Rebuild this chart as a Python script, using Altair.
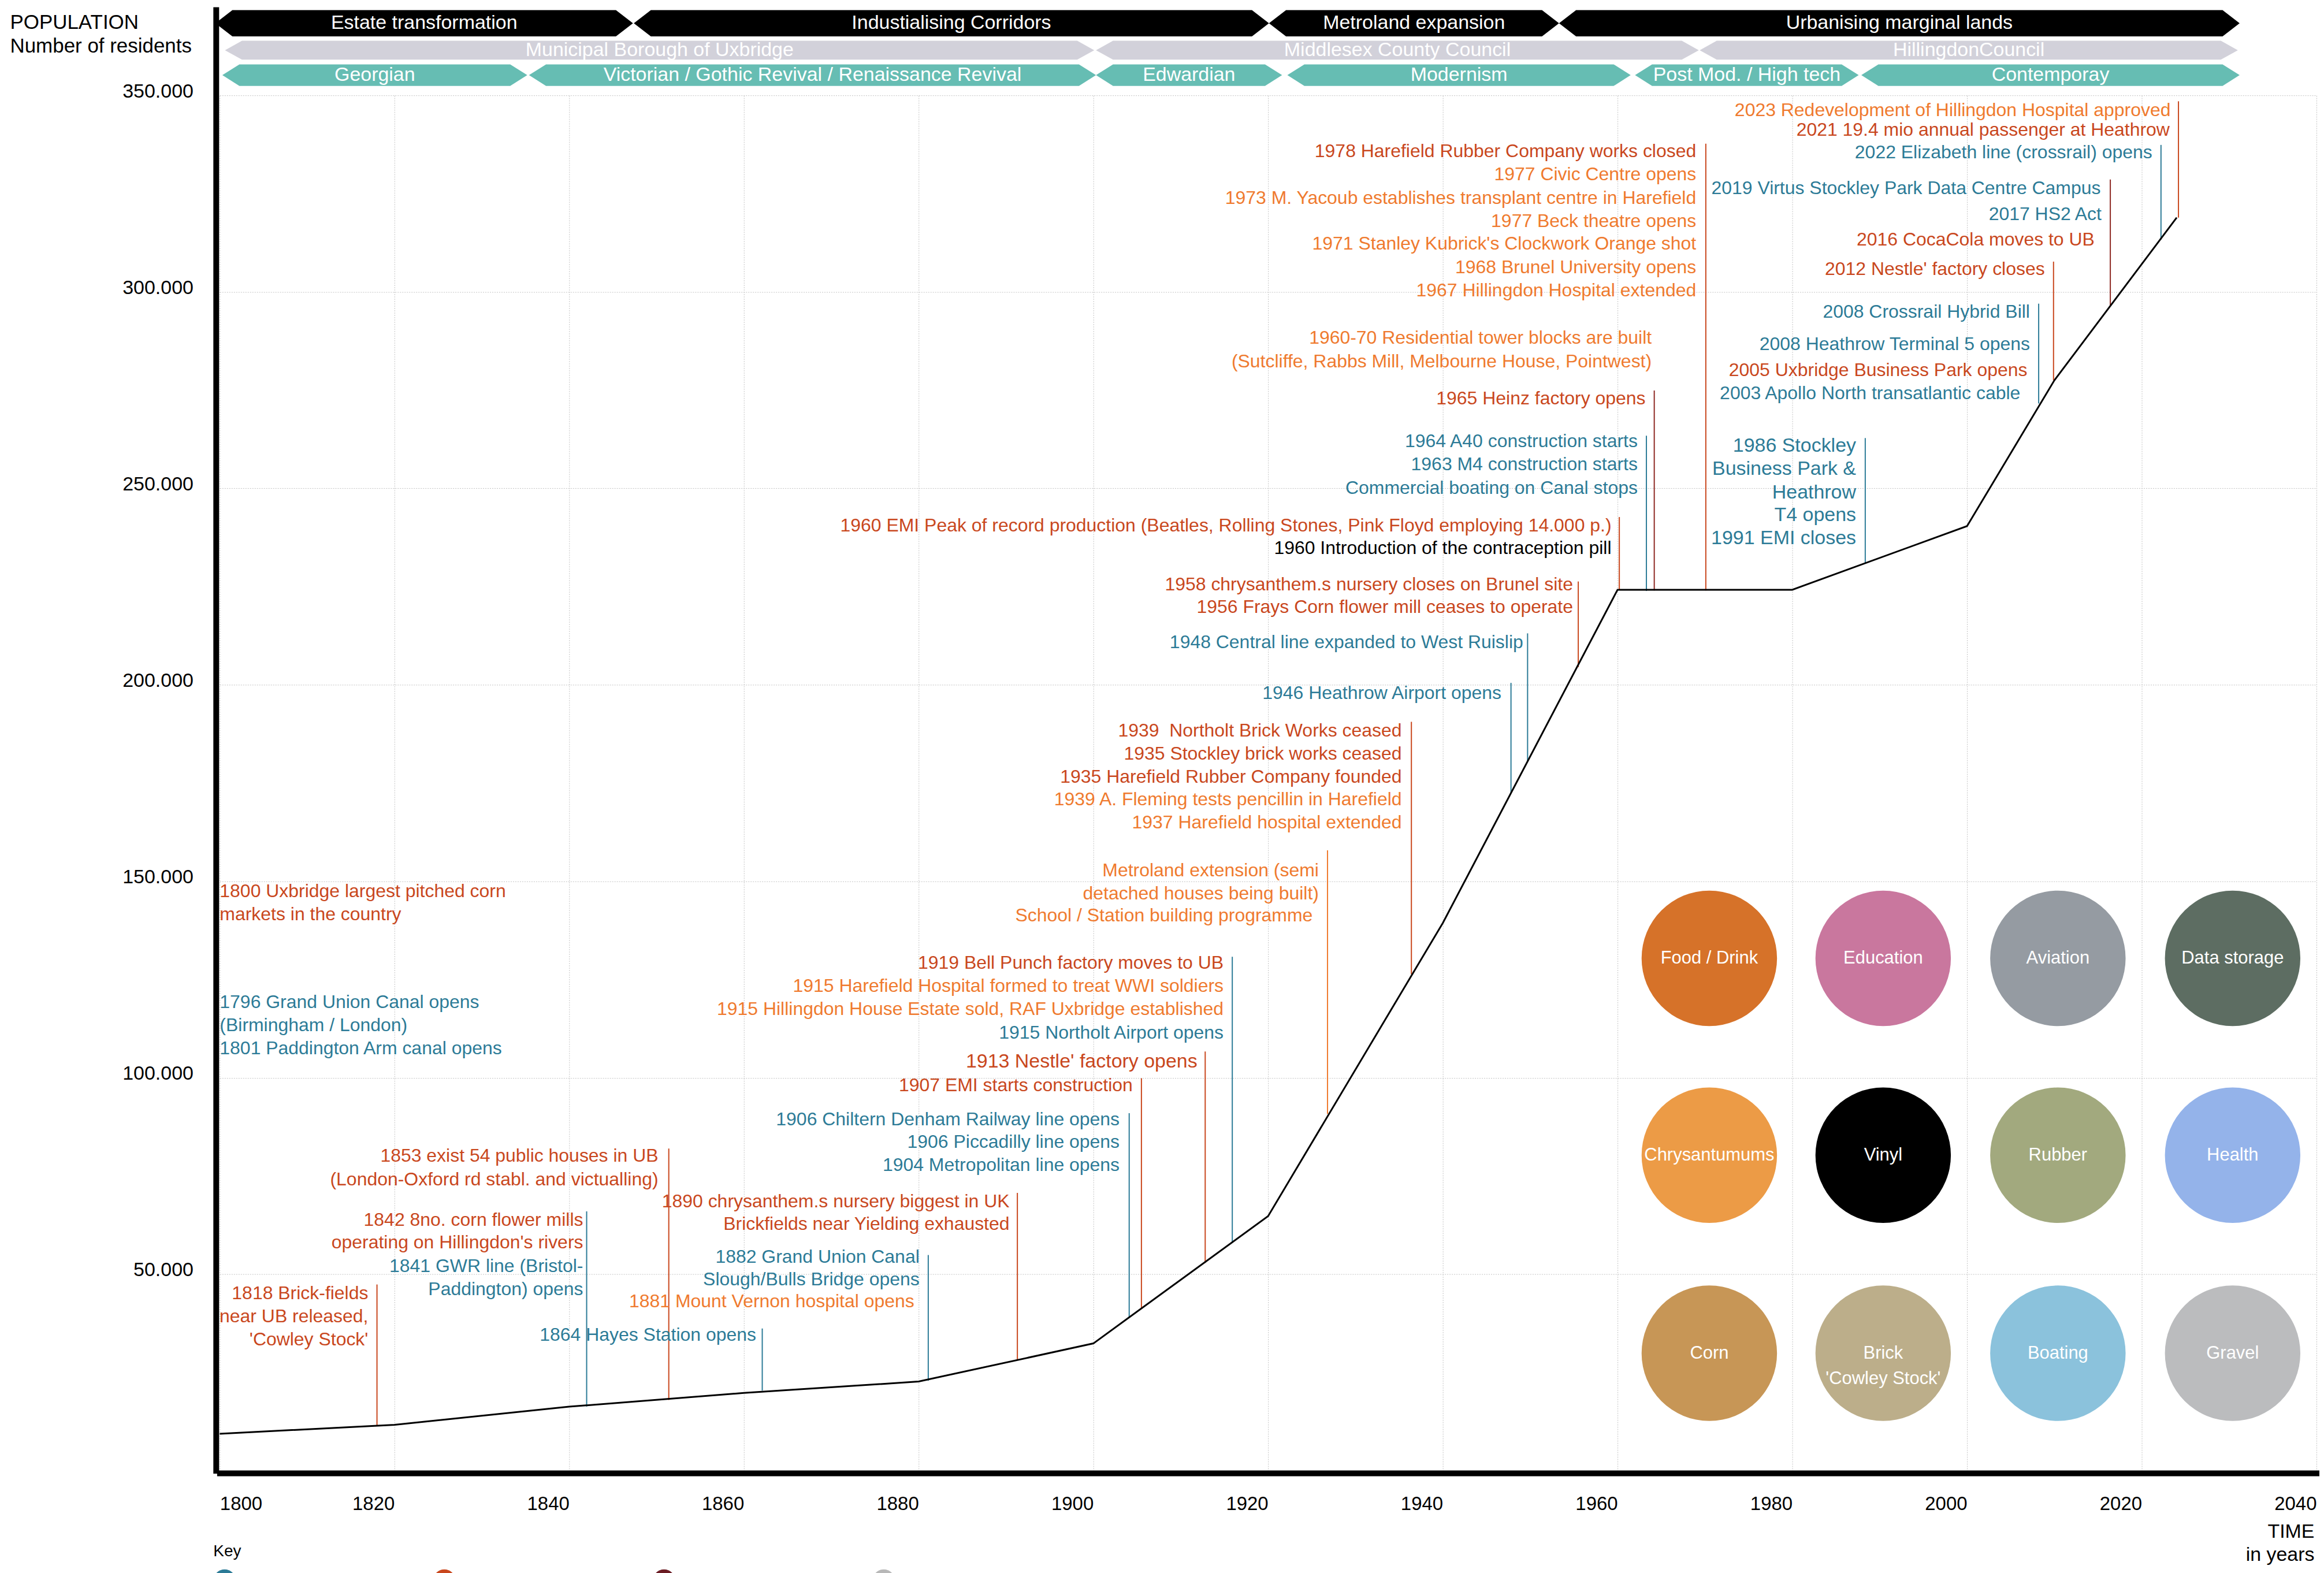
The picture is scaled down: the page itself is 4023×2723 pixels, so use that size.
import altair as alt
import pandas as pd

FONT = "Liberation Sans"

BLUE, RED, ORANGE, BLACK, DARKRED = "#2c7b97", "#c9471d", "#ef7a2e", "#000000", "#8e2a24"
PALETTE = {"b": BLUE, "r": RED, "o": ORANGE, "k": BLACK, "d": DARKRED}

# ---------------- population (thousands of residents) ----------------
pop_years = [1800, 1820, 1840, 1860, 1880, 1900, 1920, 1940, 1960, 1980, 2000, 2010, 2024]
pop_values = [9.4, 11.7, 16.3, 19.8, 22.7, 32.4, 64.8, 139.4, 224.2, 224.2, 240.4, 277.5, 318.9]

# ---------------- event drop lines ----------------
rule_years = [1818.0, 1842.0, 1851.4, 1862.1, 1881.1, 1891.3, 1904.1, 1905.5, 1912.8, 1915.9,
              1926.8, 1936.4, 1947.8, 1949.7, 1955.5, 1960.2, 1963.3, 1964.2, 1970.1, 1988.35,
              2008.2, 2009.9, 2016.4, 2022.2, 2024.2]
rule_low = [11.5, 16.3, 18.0, 20.4, 22.9, 28.1, 38.9, 41.5, 52.9, 58.0,
            90.8, 126.4, 172.6, 180.6, 204.5, 224.3, 223.9, 224.0, 224.0, 231.0,
            271.6, 277.5, 296.6, 313.3, 318.9]
rule_high = [47.4, 66.0, 82.0, 36.2, 54.9, 70.7, 91.0, 99.9, 106.7, 130.8,
             157.9, 190.6, 200.5, 213.1, 226.3, 242.7, 263.4, 274.9, 337.7, 262.8,
             297.0, 307.7, 328.6, 337.4, 348.5]
rule_cols = ["r", "b", "r", "b", "b", "r", "b", "r", "r", "b",
             "o", "r", "b", "b", "r", "r", "b", "d", "r", "b",
             "b", "r", "d", "b", "r"]

# ---------------- right-aligned annotations ----------------
right_text = [
    "1818 Brick-fields", "near UB released,", "'Cowley Stock'",
    "1842 8no. corn flower mills", "operating on Hillingdon's rivers",
    "1841 GWR line (Bristol-", "Paddington) opens",
    "1853 exist 54 public houses in UB", "(London-Oxford rd stabl. and victualling)",
    "1864 Hayes Station opens",
    "1882 Grand Union Canal", "Slough/Bulls Bridge opens", "1881 Mount Vernon hospital opens",
    "1890 chrysanthem.s nursery biggest in UK", "Brickfields near Yielding exhausted",
    "1906 Chiltern Denham Railway line opens", "1906 Piccadilly line opens", "1904 Metropolitan line opens",
    "1913 Nestle' factory opens", "1907 EMI starts construction",
    "1919 Bell Punch factory moves to UB", "1915 Harefield Hospital formed to treat WWI soldiers",
    "1915 Hillingdon House Estate sold, RAF Uxbridge established", "1915 Northolt Airport opens",
    "Metroland extension (semi", "detached houses being built)", "School / Station building programme",
    "1939\u00a0 Northolt Brick Works ceased", "1935 Stockley brick works ceased",
    "1935 Harefield Rubber Company founded", "1939 A. Fleming tests pencillin in Harefield",
    "1937 Harefield hospital extended",
    "1946 Heathrow Airport opens", "1948 Central line expanded to West Ruislip",
    "1958 chrysanthem.s nursery closes on Brunel site", "1956 Frays Corn flower mill ceases to operate",
    "1960 EMI Peak of record production (Beatles, Rolling Stones, Pink Floyd employing 14.000 p.)",
    "1960 Introduction of the contraception pill",
    "1964 A40 construction starts", "1963 M4 construction starts", "Commercial boating on Canal stops",
    "1965 Heinz factory opens",
    "1960-70 Residential tower blocks are built", "(Sutcliffe, Rabbs Mill, Melbourne House, Pointwest)",
    "1978 Harefield Rubber Company works closed", "1977 Civic Centre opens",
    "1973 M. Yacoub establishes transplant centre in Harefield", "1977 Beck theatre opens",
    "1971 Stanley Kubrick's Clockwork Orange shot", "1968 Brunel University opens",
    "1967 Hillingdon Hospital extended",
    "1986 Stockley", "Business Park &", "Heathrow", "T4 opens", "1991 EMI closes",
    "2008 Crossrail Hybrid Bill", "2008 Heathrow Terminal 5 opens",
    "2005 Uxbridge Business Park opens", "2003 Apollo North transatlantic cable",
    "2012 Nestle' factory closes",
    "2016 CocaCola moves to UB", "2017 HS2 Act", "2019 Virtus Stockley Park Data Centre Campus",
    "2022 Elizabeth line (crossrail) opens",
    "2021 19.4 mio annual passenger at Heathrow", "2023 Redevelopment of Hillingdon Hospital approved",
]
right_x = [
    1817.0, 1817.0, 1817.0,
    1841.6, 1841.6, 1841.6, 1841.6,
    1850.2, 1850.2,
    1861.4,
    1880.1, 1880.1, 1879.5,
    1890.4, 1890.4,
    1903.0, 1903.0, 1903.0,
    1911.9, 1904.5,
    1914.9, 1914.9, 1914.9, 1914.9,
    1925.8, 1925.8, 1925.1,
    1935.3, 1935.3, 1935.3, 1935.3, 1935.3,
    1946.7, 1949.2,
    1954.9, 1954.9,
    1959.3, 1959.3,
    1962.3, 1962.3, 1962.3,
    1963.2,
    1963.9, 1963.9,
    1969.0, 1969.0, 1969.0, 1969.0, 1969.0, 1969.0, 1969.0,
    1987.3, 1987.3, 1987.3, 1987.3, 1987.3,
    2007.2, 2007.2, 2006.9, 2006.1,
    2008.9,
    2014.6, 2015.4, 2015.3,
    2021.2,
    2023.2, 2023.3,
]
right_y = [
    45.1, 39.2, 33.3,
    63.8, 58.0, 52.1, 46.2,
    80.1, 74.1,
    34.5,
    54.4, 48.6, 43.0,
    68.5, 62.7,
    89.4, 83.6, 77.7,
    104.1, 98.1,
    129.2, 123.3, 117.4, 111.5,
    152.8, 146.9, 141.2,
    188.3, 182.5, 176.6, 170.8, 164.9,
    197.8, 210.8,
    225.5, 219.7,
    240.5, 234.7,
    261.9, 256.1, 250.1,
    272.9,
    288.3, 282.3,
    335.8, 329.9, 323.9, 318.0, 312.2, 306.2, 300.3,
    260.8, 254.9, 248.9, 243.1, 237.2,
    294.9, 286.7, 280.1, 274.1,
    305.8,
    313.3, 319.7, 326.3,
    335.4,
    341.2, 346.2,
]
right_col = (
    "rrr" + "rrbb" + "rr" + "b" + "bbo" + "rr" + "bbb" + "rr" + "roob" + "ooo" + "rrroo"
    + "bb" + "rr" + "rk" + "bbb" + "r" + "oo" + "roooooo" + "bbbbb" + "bbrb" + "r"
    + "rbb" + "b" + "ro"
)
right_size = [32] * len(right_text)
for i, t in enumerate(right_text):
    if t.startswith("1913"):
        right_size[i] = 34
    if t in ("1986 Stockley", "Business Park &", "Heathrow", "T4 opens", "1991 EMI closes"):
        right_size[i] = 34

# ---------------- left-aligned annotations ----------------
left_text = ["1800 Uxbridge largest pitched corn", "markets in the country",
             "1796 Grand Union Canal opens", "(Birmingham / London)", "1801 Paddington Arm canal opens"]
left_x = [1800.0, 1800.0, 1800.0, 1800.0, 1800.0]
left_y = [147.5, 141.6, 119.2, 113.3, 107.4]
left_col = ["r", "r", "b", "b", "b"]

# ---------------- era banners ----------------
band_name = ["Estate transformation", "Industialising Corridors", "Metroland expansion",
             "Urbanising marginal lands",
             "Municipal Borough of Uxbridge", "Middlesex County Council", "HillingdonCouncil",
             "Georgian", "Victorian / Gothic Revival / Renaissance Revival", "Edwardian",
             "Modernism", "Post Mod. / High tech", "Contemporay"]
band_start = [1799.5, 1847.4, 1920.1, 1953.3, 1800.6, 1900.3, 1969.4,
              1800.3, 1835.4, 1900.3, 1922.2, 1962.0, 1987.9]
band_end = [1847.3, 1920.1, 1953.3, 2031.2, 1900.1, 1969.3, 2031.0,
            1835.2, 1900.3, 1921.6, 1961.5, 1987.6, 2031.2]
band_row = [1, 1, 1, 1, 2, 2, 2, 3, 3, 3, 3, 3, 3]
row_top = {1: 371.7, 2: 363.9, 3: 357.9}
row_bot = {1: 365.0, 2: 359.1, 3: 352.4}
row_fill = {1: "#000000", 2: "#d2d1da", 3: "#66bdb3"}
TIP = 1.95

# ---------------- category circles ----------------
cat_names = ["Food / Drink", "Education", "Aviation", "Data storage",
             "Chrysantumums", "Vinyl", "Rubber", "Health",
             "Corn", "Brick\n'Cowley Stock'", "Boating", "Gravel"]
cat_colors = ["#d67229", "#c9779e", "#959ba2", "#5d6d62",
              "#ec9b46", "#000000", "#a2a97e", "#94b3ea",
              "#c79656", "#bcae8a", "#8bc2dc", "#bbbcbe"]
cat_x = [1970.5, 1990.4, 2010.4, 2030.4] * 3
cat_y = [130.4] * 4 + [80.3] * 4 + [29.9] * 4

# ---------------- key ----------------
key_names = ["Transport / infrastructure", "Industry / business", "Industrial decline", "Other"]
key_colors = [BLUE, RED, "#6b1c24", "#b8b8b8"]

# ======================================================================
X_SCALE = alt.Scale(domain=[1800, 2040], nice=False, zero=False)
Y_SCALE = alt.Scale(domain=[0, 350], nice=False, zero=False)
GRID = "#c2c2c2"

x_axis = alt.Axis(
    values=list(range(1800, 2041, 20)), format="d",
    labelAlign={"expr": "datum.value == 1800 ? 'left' : 'right'"},
    labelBaseline="top", labelPadding=38, labelFontSize=33, labelColor="black",
    labelFlush=False, labelOverlap=False, ticks=False,
    domain=True, domainColor="black", domainWidth=10, domainCap="square", offset=4,
    grid=True, gridColor=GRID, gridDash=[2, 2], gridWidth=1,
    title=["TIME", "in years"], titleX=3632, titleY=85, titleAlign="right",
    titleBaseline="top", titleFontSize=34, titleFontWeight="normal",
    titleLineHeight=40, titleColor="black",
)
y_axis = alt.Axis(
    values=[50, 100, 150, 200, 250, 300, 350], labelExpr="datum.value + '.000'",
    labelFontSize=34, labelPadding=46, labelBaseline="alphabetic", labelOffset=3,
    labelColor="black", labelOverlap=False, ticks=False, domain=False,
    grid=True, gridColor=GRID, gridDash=[2, 2], gridWidth=1,
    title=["POPULATION", "Number of residents"], titleAngle=0, titleAlign="left",
    titleBaseline="top", titleX=-364, titleY=-144, titleFontSize=35,
    titleFontWeight="normal", titleLineHeight=41, titleColor="black",
)

pop_df = pd.DataFrame({"x": pop_years, "y": pop_values})
popline = alt.Chart(pop_df).mark_line(color="black", strokeWidth=3).encode(
    x=alt.X("x:Q", scale=X_SCALE, axis=x_axis),
    y=alt.Y("y:Q", scale=Y_SCALE, axis=y_axis),
)

rule_df = pd.DataFrame({"x": rule_years, "y": rule_low, "y2": rule_high,
                        "color": [PALETTE[c] for c in rule_cols]})
rules = alt.Chart(rule_df).mark_rule(strokeWidth=2).encode(
    x=alt.X("x:Q", scale=X_SCALE), y=alt.Y("y:Q", scale=Y_SCALE), y2="y2:Q",
    color=alt.Color("color:N", scale=None),
)

axis_df = pd.DataFrame({"x": [1799.6], "y": [0.0], "y2": [row_top[1]]})
axis_rule = alt.Chart(axis_df).mark_rule(color="black", strokeWidth=10, strokeCap="square").encode(
    x=alt.X("x:Q", scale=X_SCALE), y=alt.Y("y:Q", scale=Y_SCALE), y2="y2:Q",
)

right_df = pd.DataFrame({"label": right_text, "x": right_x, "y": right_y,
                         "color": [PALETTE[c] for c in right_col], "size": right_size})
right_layer = alt.Chart(right_df).mark_text(align="right", baseline="middle", font=FONT).encode(
    x=alt.X("x:Q", scale=X_SCALE), y=alt.Y("y:Q", scale=Y_SCALE), text="label:N",
    color=alt.Color("color:N", scale=None), size=alt.Size("size:Q", scale=None),
)

left_df = pd.DataFrame({"label": left_text, "x": left_x, "y": left_y,
                        "color": [PALETTE[c] for c in left_col]})
left_layer = alt.Chart(left_df).mark_text(align="left", baseline="middle", font=FONT, fontSize=32).encode(
    x=alt.X("x:Q", scale=X_SCALE), y=alt.Y("y:Q", scale=Y_SCALE), text="label:N",
    color=alt.Color("color:N", scale=None),
)

hex_rows = []
for name, s, e, r in zip(band_name, band_start, band_end, band_row):
    top, bot = row_top[r], row_bot[r]
    mid = (top + bot) / 2
    for xx, t, b in [(s, mid, mid), (s + TIP, top, bot), (e - TIP, top, bot), (e, mid, mid)]:
        hex_rows.append({"name": name, "x": xx, "top": t, "bot": b, "fill": row_fill[r]})
hex_df = pd.DataFrame(hex_rows)
banners = alt.Chart(hex_df).mark_area(opacity=1, line=False).encode(
    x=alt.X("x:Q", scale=X_SCALE), y=alt.Y("top:Q", scale=Y_SCALE), y2="bot:Q",
    detail="name:N", color=alt.Color("fill:N", scale=None),
)
band_df = pd.DataFrame({
    "name": band_name,
    "x": [(s + e) / 2 for s, e in zip(band_start, band_end)],
    "y": [(row_top[r] + row_bot[r]) / 2 for r in band_row],
})
banner_text = alt.Chart(band_df).mark_text(color="white", fontSize=34, baseline="middle", font=FONT).encode(
    x=alt.X("x:Q", scale=X_SCALE), y=alt.Y("y:Q", scale=Y_SCALE), text="name:N",
)

circ_df = pd.DataFrame({"name": cat_names, "x": cat_x, "y": cat_y, "color": cat_colors})
circles = alt.Chart(circ_df).mark_circle(size=55150, opacity=1).encode(
    x=alt.X("x:Q", scale=X_SCALE), y=alt.Y("y:Q", scale=Y_SCALE),
    color=alt.Color("color:N", scale=None),
)
circ_text = alt.Chart(circ_df).mark_text(color="white", fontSize=31, font=FONT, lineBreak="\n",
                                         lineHeight=44, baseline="middle").encode(
    x=alt.X("x:Q", scale=X_SCALE), y=alt.Y("y:Q", scale=Y_SCALE), text="name:N",
)

key_df = pd.DataFrame({"key": key_names, "x": [1790.0] * 4, "y": [0.0] * 4})
key_layer = alt.Chart(key_df).mark_circle(clip=True, opacity=1).encode(
    x=alt.X("x:Q", scale=X_SCALE), y=alt.Y("y:Q", scale=Y_SCALE),
    color=alt.Color("key:N", scale=alt.Scale(domain=key_names, range=key_colors),
                    legend=alt.Legend(orient="none", legendX=-11, legendY=2511,
                                      direction="horizontal", title="Key", titleFontSize=28,
                                      titleFontWeight="normal", titleColor="black", titlePadding=17,
                                      symbolType="circle", symbolSize=1520, symbolStrokeWidth=0,
                                      symbolOpacity=1, labelExpr="''", labelOffset=4,
                                      columnPadding=338, padding=0)),
)

chart = alt.layer(
    circles, circ_text, rules, popline, axis_rule, right_layer, left_layer,
    banners, banner_text, key_layer,
).resolve_scale(color="independent").properties(
    width=3636, height=2385,
    autosize=alt.AutoSizeParams(type="none"),
    padding={"left": 373, "top": 155, "right": 5, "bottom": 230},
).configure(font=FONT).configure_view(stroke=None)

chart.save("out.html", embed_options={"renderer": "svg", "actions": False})
